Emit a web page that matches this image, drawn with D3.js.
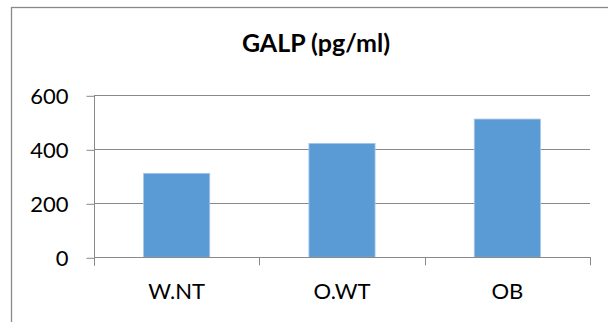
<!DOCTYPE html>
<html>
<head>
<meta charset="utf-8">
<script src="https://cdn.jsdelivr.net/npm/d3@7"></script>
<style>
  html, body { margin: 0; padding: 0; background: #fff; }
  svg { display: block; }
</style>
</head>
<body>
<svg id="chart" width="608" height="322"></svg>
<script>
const categories = ["W.NT", "O.WT", "OB"];
const values = [311, 422, 512];
const yTicks = [0, 200, 400, 600];
const title = "GALP (pg/ml)";

const svg = d3.select("#chart");
const font = "Lato, 'Open Sans', sans-serif";
const gray = "#898989";

// Chart border (extends beyond visible area on right and bottom)
svg.append("rect")
  .attr("x", 11.5).attr("y", 7.5)
  .attr("width", 800).attr("height", 500)
  .attr("fill", "none").attr("stroke", gray).attr("stroke-width", 1.3);

const plot = { left: 94, right: 590, top: 95.3, bottom: 257.3 };

const x = d3.scaleBand().domain(categories)
  .range([plot.left, plot.right]).paddingInner(0.6).paddingOuter(0.3);
const xOuter = d3.scaleBand().domain(categories)
  .range([plot.left, plot.right]).padding(0);
const y = d3.scaleLinear().domain([0, 600]).range([plot.bottom, plot.top]);

// Gridlines
svg.append("g").selectAll("line").data(yTicks.filter(d => d > 0)).join("line")
  .attr("x1", plot.left).attr("x2", plot.right)
  .attr("y1", d => Math.round(y(d)) + 0.5).attr("y2", d => Math.round(y(d)) + 0.5)
  .attr("stroke", gray).attr("stroke-width", 1);

// Bars
svg.append("g").selectAll("rect").data(values).join("rect")
  .attr("x", (d, i) => x(categories[i]))
  .attr("width", x.bandwidth())
  .attr("y", d => y(d))
  .attr("height", d => y(0) - y(d))
  .attr("fill", "#5b9bd5")
  .attr("stroke", "#a7c7e7").attr("stroke-width", 0.8);

// Y axis
const yAxis = d3.axisLeft(y).tickValues(yTicks).tickSize(8).tickPadding(16).tickFormat(d3.format("d"));
const gy = svg.append("g").attr("transform", `translate(${plot.left + 0.5},0.5)`).call(yAxis);
gy.select(".domain").remove();
gy.append("line").attr("x1", 0).attr("x2", 0)
  .attr("y1", plot.top - 0.5).attr("y2", plot.bottom + 8).attr("stroke", gray);
gy.selectAll(".tick line").attr("stroke", gray);
gy.selectAll(".tick text").attr("fill", "#000").attr("font-family", font)
  .attr("font-size", 22).attr("dy", "0.36em").attr("dx", "-2");

// X axis
svg.append("line").attr("x1", plot.left).attr("x2", plot.right + 1)
  .attr("y1", Math.round(plot.bottom) + 0.5).attr("y2", Math.round(plot.bottom) + 0.5)
  .attr("stroke", gray);
const bounds = categories.map(c => xOuter(c) + xOuter.bandwidth());
svg.append("g").selectAll("line").data(bounds).join("line")
  .attr("x1", d => Math.round(d) + 0.5).attr("x2", d => Math.round(d) + 0.5)
  .attr("y1", plot.bottom).attr("y2", plot.bottom + 8)
  .attr("stroke", gray);

svg.append("g").selectAll("text").data(categories).join("text")
  .attr("x", d => xOuter(d) + xOuter.bandwidth() / 2)
  .attr("y", 299)
  .attr("text-anchor", "middle")
  .attr("font-family", font).attr("font-size", 22).attr("fill", "#000")
  .text(d => d);

// Title
svg.append("text")
  .attr("x", 316).attr("y", 52)
  .attr("text-anchor", "middle")
  .attr("font-family", font).attr("font-weight", "bold").attr("font-size", 25)
  .attr("fill", "#000")
  .text(title);
</script>
</body>
</html>
